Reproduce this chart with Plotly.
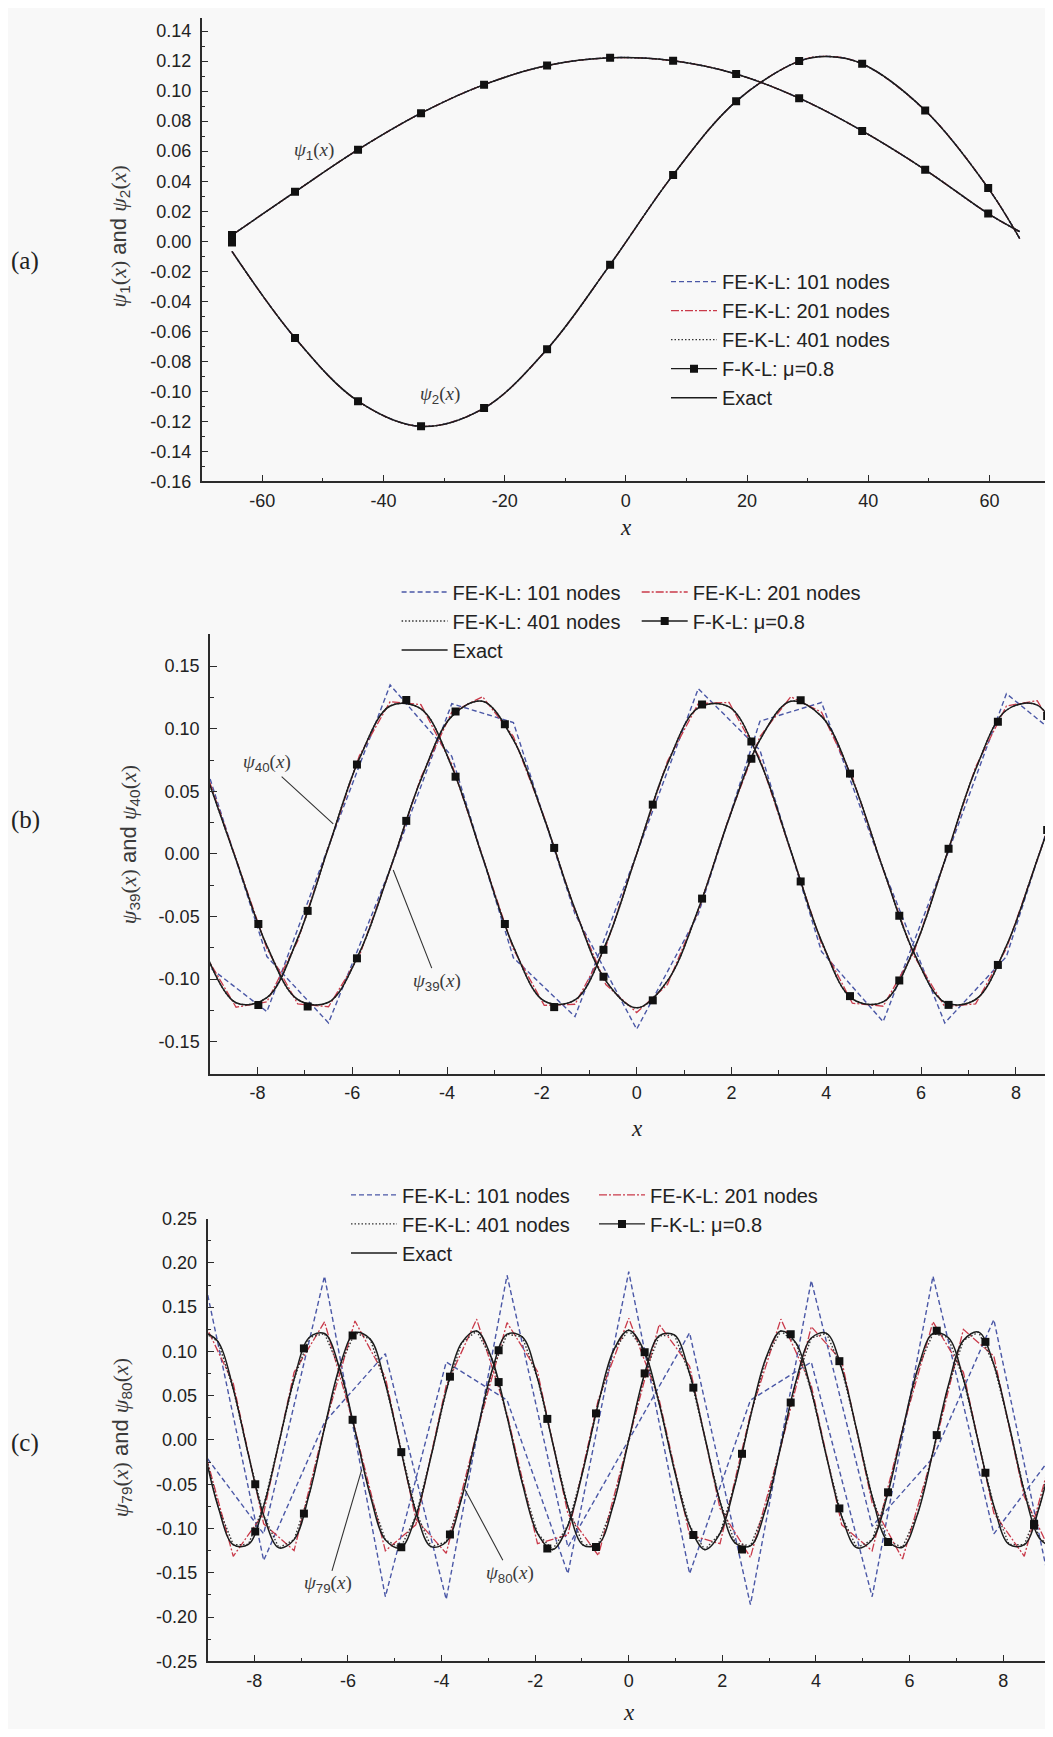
import plotly.graph_objects as go

# page coordinates of the reference (1053 x 1737); the html body adds an 8 px margin,
# so the figure is made 16 px smaller in each direction to fit the window exactly
W, H = 1053, 1737
OFF = 8
WF, HF = W - 2 * OFF, H - 2 * OFF
SANS = "Liberation Sans, Arial, Helvetica, sans-serif"
SERIF = "Liberation Serif, Times New Roman, serif"

# ---------------- Panel (a): psi1, psi2 on [-65, 65] ----------------
a_x_psi1 = [-65, -54.6, -44.2, -33.8, -23.4, -13, -2.6, 7.8, 18.2, 28.6, 39, 49.4, 59.8, 65]
a_psi1 = [0.0041, 0.0329, 0.0610, 0.0853, 0.1043, 0.1170, 0.1222, 0.1202, 0.1114, 0.0953, 0.0735, 0.0476, 0.0184, 0.0064]
a_x_psi2 = [-65, -54.6, -44.2, -33.8, -23.4, -13, -2.6, 7.8, 18.2, 28.6, 33.4, 39, 49.4, 59.8, 65]
a_psi2 = [-0.0068, -0.0644, -0.1065, -0.1233, -0.1111, -0.0719, -0.0156, 0.0442, 0.0932, 0.1200, 0.1231, 0.1182, 0.0871, 0.0354, 0.0018]
a_x_fkl = [-65, -54.6, -44.2, -33.8, -23.4, -13, -2.6, 7.8, 18.2, 28.6, 39, 49.4, 59.8]
a_psi1_fkl = [0.0041, 0.0329, 0.0610, 0.0853, 0.1043, 0.1170, 0.1222, 0.1202, 0.1114, 0.0953, 0.0735, 0.0476, 0.0184]
a_psi2_fkl = [-0.0009, -0.0644, -0.1065, -0.1233, -0.1111, -0.0719, -0.0156, 0.0442, 0.0932, 0.1200, 0.1182, 0.0871, 0.0354]

a_xticks = [-60, -40, -20, 0, 20, 40, 60]
a_xticklabels = ["-60", "-40", "-20", "0", "20", "40", "60"]
a_yticks = [-0.16, -0.14, -0.12, -0.10, -0.08, -0.06, -0.04, -0.02, 0.0, 0.02, 0.04, 0.06, 0.08, 0.10, 0.12, 0.14]
a_yticklabels = ["-0.16", "-0.14", "-0.12", "-0.10", "-0.08", "-0.06", "-0.04", "-0.02", "0.00",
                 "0.02", "0.04", "0.06", "0.08", "0.10", "0.12", "0.14"]

# ---------------- Panel (b): psi39, psi40 on [-9, 9] ----------------
b_grid_x0, b_grid_dx = -9.1, 0.65
b_psi39_exact = [0.0657, -0.0046, -0.0734, -0.1163, -0.1185, -0.0791, -0.0120, 0.0594, 0.1099, 0.1219, 0.0911,
                 0.0284, -0.0442, -0.1014, -0.1230, -0.1014, -0.0442, 0.0284, 0.0911, 0.1219, 0.1099, 0.0594,
                 -0.0120, -0.0791, -0.1185, -0.1163, -0.0734, -0.0046, 0.0657]
b_psi40_exact = [-0.0782, -0.1189, -0.1148, -0.0675, 0.0053, 0.0761, 0.1182, 0.1158, 0.0697, -0.0027, -0.0740,
                 -0.1175, -0.1166, -0.0719, 0.0, 0.0719, 0.1166, 0.1175, 0.0740, 0.0027, -0.0697, -0.1158,
                 -0.1182, -0.0761, -0.0053, 0.0675, 0.1148, 0.1189, 0.0782]
b_psi39_fe201 = [0.0677, -0.0047, -0.0756, -0.1198, -0.1221, -0.0815, -0.0124, 0.0612, 0.1132, 0.1256, 0.0938,
                 0.0293, -0.0455, -0.1044, -0.1267, -0.1044, -0.0455, 0.0293, 0.0938, 0.1256, 0.1132, 0.0612,
                 -0.0124, -0.0815, -0.1221, -0.1198, -0.0756, -0.0047, 0.0677]
b_psi40_fe201 = [-0.0805, -0.1225, -0.1182, -0.0695, 0.0055, 0.0784, 0.1217, 0.1193, 0.0718, -0.0028, -0.0762,
                 -0.1210, -0.1201, -0.0741, 0.0, 0.0741, 0.1201, 0.1210, 0.0762, 0.0028, -0.0718, -0.1193,
                 -0.1217, -0.0784, -0.0055, 0.0695, 0.1182, 0.1225, 0.0805]
fe101_x0, fe101_dx = -9.1, 1.3
b_psi39_fe101 = [0.072, -0.082, -0.135, -0.012, 0.120, 0.105, -0.048, -0.140, -0.048, 0.106, 0.121, -0.012, -0.135, -0.082, 0.072]
b_psi40_fe101 = [-0.088, -0.126, 0.006, 0.135, 0.078, -0.083, -0.130, 0.0, 0.132, 0.083, -0.078, -0.134, -0.006, 0.128, 0.088]
fkl_x0, fkl_dx = -7.98, 1.04
b_psi39_fkl = [-0.0560, -0.1219, -0.0834, 0.0264, 0.1137, 0.1036, 0.0048, -0.0981, -0.1170, -0.0357, 0.0761,
               0.1228, 0.0642, -0.0494, -0.1206, -0.0887, 0.0192]
b_psi40_fkl = [-0.1207, -0.0455, 0.0714, 0.1229, 0.0617, -0.0560, -0.1224, -0.0766, 0.0394, 0.1193, 0.0898,
               -0.0220, -0.1136, -0.1011, 0.0041, 0.1056, 0.1102]

bc_xticks = [-8, -6, -4, -2, 0, 2, 4, 6, 8]
bc_xticklabels = ["-8", "-6", "-4", "-2", "0", "2", "4", "6", "8"]
b_yticks = [-0.15, -0.10, -0.05, 0.0, 0.05, 0.10, 0.15]
b_yticklabels = ["-0.15", "-0.10", "-0.05", "0.00", "0.05", "0.10", "0.15"]

# ---------------- Panel (c): psi79, psi80 on [-9, 9] ----------------
c_fine_x0, c_fine_dx = -9.1, 0.325
c_psi79_exact = [-0.0043, -0.0751, -0.1183, -0.1180, -0.0745, -0.0035, 0.0688, 0.1157, 0.1202, 0.0804, 0.0112,
                 -0.0622, -0.1128, -0.1218, -0.0863, -0.0188, 0.0554, 0.1093, 0.1230, 0.0916, 0.0264, -0.0485,
                 -0.1055, -0.1238, -0.0966, -0.0339, 0.0412, 0.1012, 0.1240, 0.1012, 0.0412, -0.0339, -0.0966,
                 -0.1238, -0.1055, -0.0485, 0.0264, 0.0916, 0.1230, 0.1093, 0.0554, -0.0188, -0.0863, -0.1218,
                 -0.1128, -0.0622, 0.0112, 0.0804, 0.1202, 0.1157, 0.0688, -0.0035, -0.0745, -0.1180, -0.1183,
                 -0.0751, -0.0043]
c_psi80_exact = [0.1224, 0.1111, 0.0577, -0.0169, -0.0853, -0.1218, -0.1125, -0.0609, 0.0135, 0.0829, 0.1211,
                 0.1139, 0.0638, -0.0101, -0.0804, -0.1204, -0.1152, -0.0667, 0.0068, 0.0777, 0.1195, 0.1164,
                 0.0696, -0.0034, -0.0750, -0.1186, -0.1175, -0.0723, 0.0, 0.0723, 0.1175, 0.1186, 0.0750,
                 0.0034, -0.0696, -0.1164, -0.1195, -0.0777, -0.0068, 0.0667, 0.1152, 0.1204, 0.0804, 0.0101,
                 -0.0638, -0.1139, -0.1211, -0.0829, -0.0135, 0.0609, 0.1125, 0.1218, 0.0853, 0.0169, -0.0577,
                 -0.1111, -0.1224]
c_psi79_fe201 = [-0.0048, -0.1313, -0.0827, 0.0764, 0.1334, 0.0124, -0.1252, -0.0958, 0.0615, 0.1365, 0.0293,
                 -0.1171, -0.1072, 0.0457, 0.1376, 0.0457, -0.1072, -0.1171, 0.0293, 0.1365, 0.0615, -0.0958,
                 -0.1252, 0.0124, 0.1334, 0.0764, -0.0827, -0.1313, -0.0048]
c_psi80_fe201 = [0.1359, 0.0640, -0.0947, -0.1249, 0.0150, 0.1344, 0.0708, -0.0892, -0.1279, 0.0075, 0.1326,
                 0.0773, -0.0833, -0.1304, 0.0, 0.1304, 0.0833, -0.0773, -0.1326, -0.0075, 0.1279, 0.0892,
                 -0.0708, -0.1344, -0.0150, 0.1249, 0.0947, -0.0640, -0.1359]
c_psi79_fe101 = [-0.014, -0.106, 0.185, -0.177, 0.088, 0.045, -0.151, 0.190, -0.151, 0.045, 0.088, -0.177, 0.185, -0.106, -0.014]
c_psi80_fe101 = [0.190, -0.136, 0.020, 0.0975, -0.180, 0.186, -0.121, 0.0, 0.121, -0.186, 0.180, -0.0975, -0.020, 0.136, -0.190]
c_psi79_fkl = [-0.1034, 0.1034, 0.0228, -0.1211, 0.0715, 0.0654, -0.1225, 0.0300, 0.0991, -0.1072, -0.0156,
               0.1194, -0.0773, -0.0591, 0.1234, -0.0370, -0.0946]
c_psi80_fkl = [-0.0500, -0.0831, 0.1180, -0.0137, -0.1068, 0.1013, 0.0238, -0.1208, 0.0752, 0.0591, -0.1237,
               0.0423, 0.0890, -0.1152, 0.0055, 0.1108, -0.0963]
c_yticks = [-0.25, -0.20, -0.15, -0.10, -0.05, 0.0, 0.05, 0.10, 0.15, 0.20, 0.25]
c_yticklabels = ["-0.25", "-0.20", "-0.15", "-0.10", "-0.05", "0.00", "0.05", "0.10", "0.15", "0.20", "0.25"]

NAMES = ["FE-K-L: 101 nodes", "FE-K-L: 201 nodes", "FE-K-L: 401 nodes", "F-K-L: \u03bc=0.8", "Exact"]

BLUE = "#4a57a6"
RED = "#c93a4a"
DOTC = "#333333"
BLACK = "#1c1c1c"
STY = {
    0: dict(color=BLUE, dash="5px,3px", width=1.4),
    1: dict(color=RED, dash="8px,2px,2px,2px", width=1.3),
    2: dict(color=DOTC, dash="1.5px,2px", width=1.4),
    4: dict(color=BLACK, width=1.5),
}

fig = go.Figure()


def line(kind, y, xa, ya, legend, show, shape="linear", x=None, x0=None, dx=None):
    kw = dict(y=y, mode="lines", line=dict(shape=shape, **STY[kind]), xaxis=xa, yaxis=ya,
              name=NAMES[kind], legend=legend, showlegend=show, legendrank=kind + 1,
              legendgroup=legend + str(kind), hoverinfo="skip")
    if x is not None:
        kw["x"] = x
    else:
        kw["x0"] = x0
        kw["dx"] = dx
    fig.add_trace(go.Scatter(**kw))


def fkl(y, xa, ya, x=None, x0=None, dx=None):
    kw = dict(y=y, mode="markers", marker=dict(symbol="square", size=8, color="#111111"),
              xaxis=xa, yaxis=ya, showlegend=False, hoverinfo="skip")
    if x is not None:
        kw["x"] = x
    else:
        kw["x0"] = x0
        kw["dx"] = dx
    fig.add_trace(go.Scatter(**kw))


def fkl_legend(xa, ya, legend):
    fig.add_trace(go.Scatter(x=[None], y=[None], mode="lines+markers", xaxis=xa, yaxis=ya,
                             line=dict(color=BLACK, width=1.3),
                             marker=dict(symbol="square", size=8, color="#111111"),
                             name=NAMES[3], legend=legend, showlegend=True, legendrank=4))


# ---- panel (a) ----
for k in (0, 1, 2):
    line(k, a_psi1, "x", "y", "legend", True, "spline", x=a_x_psi1)
    line(k, a_psi2, "x", "y", "legend", False, "spline", x=a_x_psi2)
line(4, a_psi1, "x", "y", "legend", True, "spline", x=a_x_psi1)
line(4, a_psi2, "x", "y", "legend", False, "spline", x=a_x_psi2)
fkl(a_psi1_fkl, "x", "y", x=a_x_fkl)
fkl(a_psi2_fkl, "x", "y", x=a_x_fkl)
fkl_legend("x", "y", "legend")

# ---- panel (b) ----
line(0, b_psi39_fe101, "x2", "y2", "legend2", True, x0=fe101_x0, dx=fe101_dx)
line(0, b_psi40_fe101, "x2", "y2", "legend2", False, x0=fe101_x0, dx=fe101_dx)
line(1, b_psi39_fe201, "x2", "y2", "legend3", True, x0=b_grid_x0, dx=b_grid_dx)
line(1, b_psi40_fe201, "x2", "y2", "legend3", False, x0=b_grid_x0, dx=b_grid_dx)
line(2, b_psi39_exact, "x2", "y2", "legend2", True, "spline", x0=b_grid_x0, dx=b_grid_dx)
line(2, b_psi40_exact, "x2", "y2", "legend2", False, "spline", x0=b_grid_x0, dx=b_grid_dx)
line(4, b_psi39_exact, "x2", "y2", "legend2", True, "spline", x0=b_grid_x0, dx=b_grid_dx)
line(4, b_psi40_exact, "x2", "y2", "legend2", False, "spline", x0=b_grid_x0, dx=b_grid_dx)
fkl(b_psi39_fkl, "x2", "y2", x0=fkl_x0, dx=fkl_dx)
fkl(b_psi40_fkl, "x2", "y2", x0=fkl_x0, dx=fkl_dx)
fkl_legend("x2", "y2", "legend3")

# ---- panel (c) ----
line(0, c_psi79_fe101, "x3", "y3", "legend4", True, x0=fe101_x0, dx=fe101_dx)
line(0, c_psi80_fe101, "x3", "y3", "legend4", False, x0=fe101_x0, dx=fe101_dx)
line(1, c_psi79_fe201, "x3", "y3", "legend5", True, x0=b_grid_x0, dx=b_grid_dx)
line(1, c_psi80_fe201, "x3", "y3", "legend5", False, x0=b_grid_x0, dx=b_grid_dx)
line(2, c_psi79_exact, "x3", "y3", "legend4", True, x0=c_fine_x0, dx=c_fine_dx)
line(2, c_psi80_exact, "x3", "y3", "legend4", False, x0=c_fine_x0, dx=c_fine_dx)
line(4, c_psi79_exact, "x3", "y3", "legend4", True, "spline", x0=c_fine_x0, dx=c_fine_dx)
line(4, c_psi80_exact, "x3", "y3", "legend4", False, "spline", x0=c_fine_x0, dx=c_fine_dx)
fkl(c_psi79_fkl, "x3", "y3", x0=fkl_x0, dx=fkl_dx)
fkl(c_psi80_fkl, "x3", "y3", x0=fkl_x0, dx=fkl_dx)
fkl_legend("x3", "y3", "legend5")


def px_x(p):
    return min(1.0, max(0.0, (p - OFF) / WF))


def px_y(p):
    return min(1.0, max(0.0, 1 - (p - OFF) / HF))


def axis(domain, rng, anchor, tickvals, ticktext, mdtick, mtick0, standoff):
    return dict(domain=domain, range=rng, anchor=anchor, autorange=False,
                showline=True, linecolor="#2b2b2b", linewidth=1.5, mirror=False,
                ticks="inside", ticklen=7, tickwidth=1.3, tickcolor="#2b2b2b",
                tickmode="array", tickvals=tickvals, ticktext=ticktext,
                tickfont=dict(family=SANS, size=18, color="#222222"),
                ticklabelstandoff=standoff,
                minor=dict(ticks="inside", ticklen=4, tickwidth=1.1, tickcolor="#2b2b2b",
                           dtick=mdtick, tick0=mtick0, showgrid=False),
                showgrid=False, zeroline=False, fixedrange=True)


RIGHT = W - OFF  # last visible page column of the figure
layout = dict(
    width=WF, height=HF, autosize=False,
    margin=dict(l=0, r=0, t=0, b=0),
    paper_bgcolor="#f8f8f8", plot_bgcolor="#f8f8f8",
    font=dict(family=SANS, size=18, color="#222222"),
    xaxis=axis([px_x(201.7), 1.0], [-70, 70 - (1050 - RIGHT) / 6.06], "y", a_xticks, a_xticklabels, 10, 0, 2),
    yaxis=axis([px_y(476.9), px_y(8)], [-0.16, 0.1487], "x", a_yticks, a_yticklabels, 0.01, 0, 5),
    xaxis2=axis([px_x(210), 1.0], [-9, (RIGHT - 636.7) / 47.4], "y2", bc_xticks, bc_xticklabels, 1, 0, 2),
    yaxis2=axis([px_y(1076), px_y(631.5)], [-0.1755, 0.1755], "x2", b_yticks, b_yticklabels, 0.025, 0, 5),
    xaxis3=axis([px_x(207.5), 1.0], [-9, 9 - (1050 - RIGHT) / 46.8], "y3", bc_xticks, bc_xticklabels, 1, 0, 2),
    yaxis3=axis([px_y(1670.7), px_y(1222.7)], [-0.25, 0.25], "x3", c_yticks, c_yticklabels, 0.025, 0, 5),
)

LEG_DY = 24
leg_common = dict(xanchor="left", yanchor="top", bgcolor="rgba(0,0,0,0)", borderwidth=0,
                  font=dict(family=SANS, size=20, color="#222222"), itemwidth=46,
                  traceorder="normal", tracegroupgap=0)
layout["legend"] = dict(x=px_x(722 - 56), y=px_y(279 - LEG_DY), **leg_common)
layout["legend2"] = dict(x=px_x(452.6 - 56), y=px_y(593 - LEG_DY), **leg_common)
layout["legend3"] = dict(x=px_x(692.7 - 56), y=px_y(593 - LEG_DY), **leg_common)
layout["legend4"] = dict(x=px_x(402 - 56), y=px_y(1203 - LEG_DY), **leg_common)
layout["legend5"] = dict(x=px_x(650 - 56), y=px_y(1203 - LEG_DY), **leg_common)
fig.update_layout(**layout)


def psi(n):
    return ('<span style="font-family:Liberation Serif"><i>\u03c8</i></span><sub>%s</sub>'
            '<span style="font-family:Liberation Serif">(<i>x</i>)</span>' % n)


ann = []
for lab, yc in (("(a)", 254), ("(b)", 819), ("(c)", 1450)):
    ann.append(dict(text=lab, x=px_x(25), y=px_y(yc), xref="paper", yref="paper", showarrow=False,
                    xanchor="center", yanchor="middle",
                    font=dict(family=SERIF, size=25, color="#222222")))
for n1, n2, xc, yc in ((1, 2, 120, 229), (39, 40, 130, 845), (79, 80, 122, 1445)):
    ann.append(dict(text=psi(n1) + " and " + psi(n2), x=px_x(xc), y=px_y(yc), xref="paper", yref="paper",
                    showarrow=False, textangle=-90, xanchor="center", yanchor="middle",
                    font=dict(family=SANS, size=22, color="#3a3a3a")))
for xc, yc in ((626, 523), (636.7, 1131.7), (628.7, 1722)):
    ann.append(dict(text="<i>x</i>", x=px_x(xc), y=px_y(yc), xref="paper", yref="paper", showarrow=False,
                    xanchor="center", yanchor="middle",
                    font=dict(family=SERIF, size=23, color="#222222")))
lab_font = dict(family=SANS, size=19, color="#3a3a3a")
ann.append(dict(text=psi(1), x=-51.5, y=0.0603, xref="x", yref="y", showarrow=False, font=lab_font,
                xanchor="center", yanchor="middle"))
ann.append(dict(text=psi(2), x=-30.7, y=-0.1024, xref="x", yref="y", showarrow=False, font=lab_font,
                xanchor="center", yanchor="middle"))
for txt, hx, hy, tx, ty, xa, ya in ((psi(40), -6.40, 0.024, -7.80, 0.0725, "x2", "y2"),
                                     (psi(39), -5.135, -0.0129, -4.21, -0.102, "x2", "y2"),
                                     (psi(79), -5.705, -0.0335, -6.425, -0.163, "x3", "y3"),
                                     (psi(80), -3.50, -0.0558, -2.536, -0.151, "x3", "y3")):
    ann.append(dict(text=txt, x=hx, y=hy, xref=xa, yref=ya, ax=tx, ay=ty, axref=xa, ayref=ya,
                    showarrow=True, arrowhead=0, arrowwidth=1.1, arrowcolor="#333333", font=lab_font))
fig.update_layout(annotations=ann)

fig.write_html("out.html", config={"displayModeBar": False})
